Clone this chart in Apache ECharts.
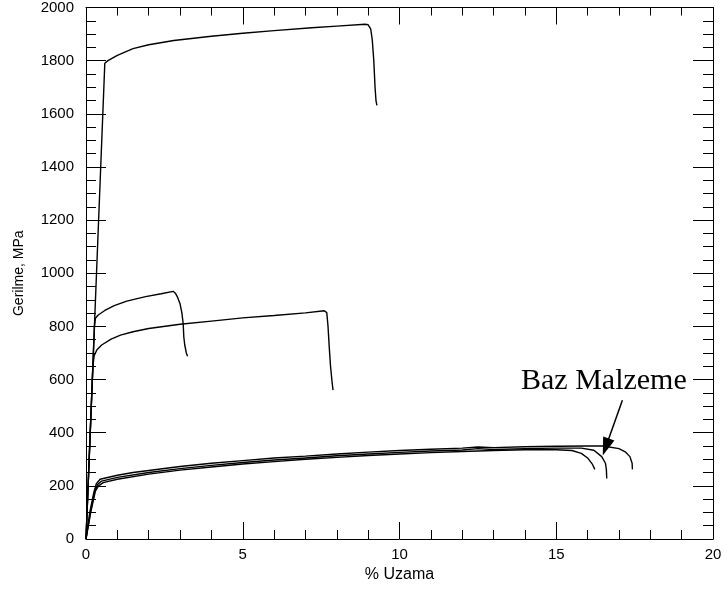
<!DOCTYPE html>
<html>
<head>
<meta charset="utf-8">
<script src="https://cdn.jsdelivr.net/npm/echarts@6/dist/echarts.min.js"></script>
<style>
  html, body { margin: 0; padding: 0; background: #fff; }
  #chart { width: 727px; height: 590px; }
</style>
</head>
<body>
<div id="chart"></div>
<script>
// eksen etiketleri
const xTicks = [0, 5, 10, 15, 20];
const yTicks = [0, 200, 400, 600, 800, 1000, 1200, 1400, 1600, 1800, 2000];

// [% uzama, gerilme MPa] okunan noktalar
const curveTop = [
  [0, 0], [0.6, 1790], [0.7, 1800], [1.0, 1820], [1.5, 1845], [2.0, 1860],
  [2.8, 1876], [4.0, 1892], [5.0, 1903], [6.0, 1913], [7.2, 1924], [8.0, 1930],
  [8.9, 1937], [9.0, 1935], [9.08, 1920], [9.13, 1880], [9.18, 1800],
  [9.22, 1700], [9.25, 1650], [9.28, 1632]
];
const curveMid1 = [
  [0, 0], [0.27, 800], [0.3, 830], [0.38, 842], [0.6, 860], [0.9, 878],
  [1.3, 895], [1.9, 912], [2.4, 923], [2.78, 932], [2.85, 925], [2.92, 910],
  [3.0, 885], [3.06, 850], [3.1, 810], [3.12, 760], [3.15, 730], [3.2, 700],
  [3.24, 688]
];
const curveMid2 = [
  [0, 0], [0.22, 650], [0.26, 690], [0.35, 712], [0.5, 730], [0.8, 752],
  [1.1, 767], [1.5, 780], [2.0, 792], [3.0, 808], [4.0, 820], [5.0, 832],
  [6.0, 841], [7.0, 851], [7.6, 859], [7.68, 852], [7.72, 800], [7.76, 720],
  [7.8, 650], [7.85, 590], [7.88, 560]
];
const base1 = [
  [0, 0], [0.12, 100], [0.25, 175], [0.33, 208], [0.45, 225], [1, 240],
  [1.5, 250], [2, 258], [3, 273], [4, 285], [5, 295], [6, 305], [7, 312],
  [8, 320], [9, 327], [10, 333], [11, 338], [12, 342], [12.5, 346], [13, 344],
  [14, 347], [15, 349], [16, 350], [16.5, 350], [17, 340], [17.2, 328],
  [17.35, 310], [17.42, 285], [17.43, 262]
];
const base2 = [
  [0, 0], [0.14, 100], [0.28, 180], [0.37, 205], [0.5, 218], [1, 232],
  [2, 250], [3, 265], [4, 277], [5, 288], [6, 297], [7, 305], [8, 313],
  [9, 320], [10, 326], [11, 331], [12, 335], [12.5, 340], [13, 337], [14, 340],
  [15, 342], [15.8, 342], [16.2, 334], [16.45, 310], [16.57, 285], [16.6, 260],
  [16.61, 228]
];
const base3 = [
  [0, 0], [0.15, 100], [0.3, 180], [0.4, 200], [0.55, 212], [1, 225],
  [2, 244], [3, 259], [4, 271], [5, 282], [6, 291], [7, 300], [8, 307],
  [9, 314], [10, 320], [11, 325], [12, 329], [13, 333], [14, 336], [15, 336],
  [15.5, 333], [15.8, 322], [16.0, 305], [16.15, 282], [16.23, 262]
];
// ok: [baslangic, uc]
const arrowFrom = [17.11, 522];
const arrowTo = [16.58, 346];

const chart = echarts.init(document.getElementById("chart"));

const font = "Liberation Sans";

function lineSeries(data) {
  return {
    type: "line",
    data: data,
    showSymbol: false,
    symbol: "none",
    xAxisIndex: 0,
    yAxisIndex: 0,
    lineStyle: { color: "#000", width: 1.4 }
  };
}

const series = [curveTop, curveMid1, curveMid2, base1, base2, base3].map(lineSeries);
series[3].markLine = {
  silent: true,
  symbol: ["none", "triangle"],
  symbolSize: [12, 18],
  lineStyle: { color: "#000", width: 1.5, type: "solid" },
  label: { show: false },
  data: [[{ coord: arrowFrom }, { coord: arrowTo }]]
};

// ortak eksen cizgisi
const frameLine = { onZero: false, lineStyle: { color: "#000", width: 1 } };

chart.setOption({
  animation: false,
  backgroundColor: "#fff",
  grid: { left: 86, right: 14, top: 6, bottom: 51 },
  xAxis: [
    {
      type: "value",
      min: 0,
      max: 20,
      interval: 5,
      position: "bottom",
      name: "% Uzama",
      nameLocation: "middle",
      nameGap: 22,
      nameTextStyle: { fontFamily: font, fontSize: 16, color: "#000" },
      axisLine: frameLine,
      axisTick: { inside: true, length: 17, lineStyle: { color: "#000" } },
      minorTick: { show: true, splitNumber: 5, length: 9, lineStyle: { color: "#000" } },
      splitLine: { show: false },
      axisLabel: {
        fontFamily: font, fontSize: 15, color: "#000", margin: 8,
        formatter: v => (xTicks.includes(v) ? String(v) : "")
      }
    },
    {
      type: "value",
      min: 0,
      max: 20,
      interval: 5,
      position: "top",
      axisLine: frameLine,
      axisTick: { inside: true, length: 17, lineStyle: { color: "#000" } },
      minorTick: { show: true, splitNumber: 5, length: 8, lineStyle: { color: "#000" } },
      splitLine: { show: false },
      axisLabel: { show: false }
    }
  ],
  yAxis: [
    {
      type: "value",
      min: 0,
      max: 2000,
      interval: 200,
      position: "left",
      name: "Gerilme, MPa",
      nameLocation: "middle",
      nameGap: 60,
      nameTextStyle: { fontFamily: font, fontSize: 14, color: "#000" },
      axisLine: Object.assign({ show: true }, frameLine),
      axisTick: { show: true, inside: true, length: 20, lineStyle: { color: "#000" } },
      minorTick: { show: true, splitNumber: 4, length: 10, lineStyle: { color: "#000" } },
      splitLine: { show: false },
      axisLabel: {
        fontFamily: font, fontSize: 15, color: "#000", margin: 12,
        formatter: v => (yTicks.includes(v) ? String(v) : "")
      }
    },
    {
      type: "value",
      min: 0,
      max: 2000,
      interval: 200,
      position: "right",
      axisLine: Object.assign({ show: true }, frameLine),
      axisTick: { show: true, inside: true, length: 20, lineStyle: { color: "#000" } },
      minorTick: { show: true, splitNumber: 4, length: 10, lineStyle: { color: "#000" } },
      splitLine: { show: false },
      axisLabel: { show: false }
    }
  ],
  graphic: [
    {
      type: "text",
      left: 521,
      top: 366,
      style: {
        text: "Baz Malzeme",
        font: '30px "Liberation Serif"',
        fill: "#000"
      }
    }
  ],
  series: series
});
</script>
</body>
</html>
